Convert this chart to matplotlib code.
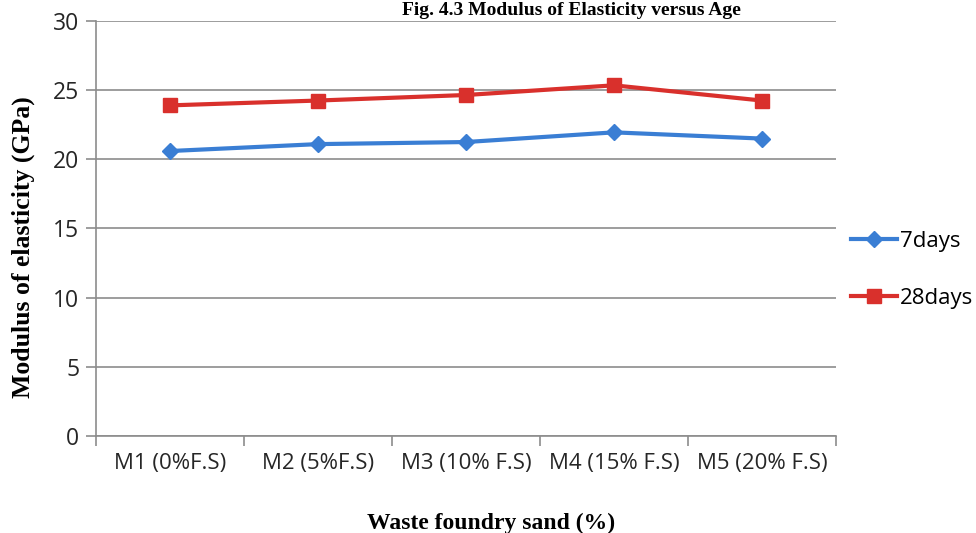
import matplotlib
matplotlib.use("Agg")
import matplotlib.pyplot as plt

# Data
mixes = ['M1 (0%F.S)', 'M2 (5%F.S)', 'M3 (10% F.S)', 'M4 (15% F.S)', 'M5 (20% F.S)']
days_7 = [20.6, 21.1, 21.25, 21.95, 21.5]
days_28 = [23.9, 24.25, 24.65, 25.35, 24.25]

sans = ['Open Sans', 'DejaVu Sans']
serif = ['Liberation Serif', 'DejaVu Serif']

fig = plt.figure(figsize=(9.76, 5.33), dpi=100)
ax = fig.add_axes([0.0984, 0.182, 0.758, 0.7786])

x = list(range(len(mixes)))
ax.plot(x, days_7, color='#3A7ED4', lw=3, marker='D', ms=8.5, label='7days')
ax.plot(x, days_28, color='#D9302C', lw=3, marker='s', ms=10, label='28days')

ax.set_xlim(-0.5, len(mixes) - 0.5)
ax.set_ylim(0, 30)
ax.set_yticks(range(0, 31, 5))
ax.yaxis.grid(True, color='#8C8C8C', lw=1.2)
ax.set_axisbelow(True)

# category ticks between groups, labels centred under points
ax.set_xticks([i - 0.5 for i in range(len(mixes) + 1)])
ax.set_xticklabels([])
ax.set_xticks(x, minor=True)
ax.set_xticklabels(mixes, minor=True, fontsize=16, family=sans, color='#262626')
ax.tick_params(axis='x', which='minor', length=0, pad=12)
ax.tick_params(axis='x', which='major', length=7, color='#8C8C8C', width=1.2)
ax.tick_params(axis='y', length=7, color='#8C8C8C', width=1.2, pad=5)
for lbl in ax.get_yticklabels():
    lbl.set_fontsize(16.5)
    lbl.set_family(sans)
    lbl.set_color('#262626')

for s in ['top', 'right']:
    ax.spines[s].set_visible(False)
for s in ['left', 'bottom']:
    ax.spines[s].set_color('#8C8C8C')
    ax.spines[s].set_linewidth(1.2)

ax.set_xlabel('Waste foundry sand (%)', fontsize=17, fontweight='bold', family=serif)
ax.xaxis.set_label_coords(0.534, -0.186)
ax.set_ylabel('Modulus of elasticity (GPa)', fontsize=18.5, fontweight='bold', family=serif)
ax.yaxis.set_label_coords(-0.083, 0.455)

leg = ax.legend(loc='center left', bbox_to_anchor=(0.993, 0.4), frameon=False,
                prop={'family': sans, 'size': 16}, handlelength=2.1,
                labelspacing=1.6, handletextpad=0.1)

fig.text(0.585, 0.972, 'Fig. 4.3 Modulus of Elasticity versus Age', ha='center',
         va='baseline', fontsize=14, fontweight='bold', family=serif)

fig.savefig('out.png', dpi=100)
